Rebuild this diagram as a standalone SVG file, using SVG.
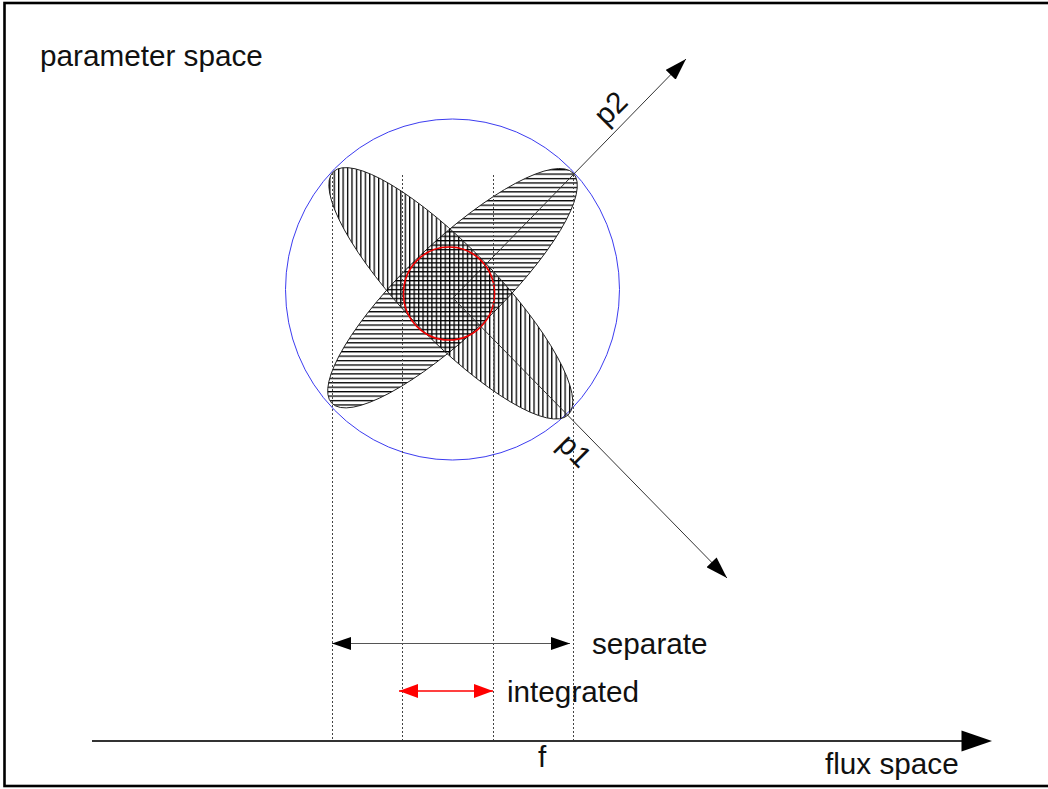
<svg xmlns="http://www.w3.org/2000/svg" width="1048" height="789" viewBox="0 0 1048 789">
<style>
  .lbl{font-family:"Liberation Sans",Arial,sans-serif;font-size:29.7px;fill:#111}
  .dot{stroke:#444;stroke-width:1;stroke-dasharray:2 2;fill:none}
  .ax{stroke:#333;stroke-width:1;fill:none}
  .outline{stroke:#222;stroke-width:1}
</style>
<defs>
  <pattern id="hh" patternUnits="userSpaceOnUse" x="0" y="0.3" width="8" height="4.44">
    <rect x="0" y="0" width="8" height="1.3" fill="#000"/>
  </pattern>
  <pattern id="vh" patternUnits="userSpaceOnUse" x="0.6" y="0" width="4.44" height="8">
    <rect x="0" y="0" width="1.3" height="8" fill="#000"/>
  </pattern>
  <marker id="axHead" markerUnits="userSpaceOnUse" markerWidth="24" markerHeight="14" refX="22" refY="7" orient="auto">
    <path d="M0,0 L22,7 L0,14 Z" fill="#000"/>
  </marker>
  <marker id="blkHead" markerUnits="userSpaceOnUse" markerWidth="20" markerHeight="13" refX="19" refY="6.5" orient="auto-start-reverse">
    <path d="M0,0 L19,6.5 L0,13 Z" fill="#000"/>
  </marker>
  <marker id="redHead" markerUnits="userSpaceOnUse" markerWidth="20" markerHeight="14" refX="19" refY="7" orient="auto-start-reverse">
    <path d="M0,0 L19,7 L0,14 Z" fill="#f00"/>
  </marker>
</defs>

<rect x="0" y="0" width="1048" height="789" fill="#fff"/>
<g id="frame">
  <rect x="4.5" y="3" width="1060" height="783" fill="none" stroke="#000" stroke-width="2.6"/>
</g>

<g id="title">
  <text class="lbl" x="40" y="66">parameter space</text>
</g>

<g id="outer-circle">
  <ellipse cx="452.5" cy="289.5" rx="167" ry="170.5" fill="none" stroke="#3c3cf0" stroke-width="1"/>
</g>

<g id="ellipse-p2">
  <path class="outline" fill="url(#hh)" d="M331.8,403.2 A166.7,46 -43.6 0 1 573.2,173.2 A166.7,46 -43.6 0 1 331.8,403.2 Z"/>
</g>
<g id="ellipse-p1">
  <path class="outline" fill="url(#vh)" d="M333.4,171.7 A169,46 46 0 1 568.2,414.9 A169,46 46 0 1 333.4,171.7 Z"/>
</g>

<g id="inner-circle">
  <ellipse cx="449" cy="293.5" rx="45.5" ry="46.5" fill="none" stroke="#e00" stroke-width="1.6"/>
</g>

<g id="projections">
  <line class="dot" x1="332.5" y1="173" x2="332.5" y2="740"/>
  <line class="dot" x1="402.5" y1="175" x2="402.5" y2="740"/>
  <line class="dot" x1="493.5" y1="175" x2="493.5" y2="740"/>
  <line class="dot" x1="573.5" y1="175" x2="573.5" y2="740"/>
</g>

<g id="connectors">
  <line class="ax" x1="453" y1="298" x2="686" y2="59" marker-end="url(#axHead)"/>
  <line class="ax" x1="453" y1="298" x2="727" y2="578" marker-end="url(#axHead)"/>
  <line x1="332" y1="643.5" x2="570" y2="643.5" stroke="#555" stroke-width="1.2" marker-start="url(#blkHead)" marker-end="url(#blkHead)"/>
  <line x1="399" y1="691" x2="493" y2="691" stroke="#f00" stroke-width="1.6" marker-start="url(#redHead)" marker-end="url(#redHead)"/>
  <line x1="92" y1="741" x2="963" y2="741" stroke="#333" stroke-width="2.2"/>
  <polygon points="961.5,730.5 992,741 961.5,751.5" fill="#000"/>
</g>

<g id="labels">
  <text class="lbl" x="0" y="0" font-size="28" transform="translate(606,127) rotate(-45)">p2</text>
  <text class="lbl" x="0" y="0" font-size="28" transform="translate(556,446) rotate(45)">p1</text>
  <text class="lbl" x="592" y="654">separate</text>
  <text class="lbl" x="507" y="702">integrated</text>
  <text class="lbl" x="538" y="767">f</text>
  <text class="lbl" x="825" y="774">flux space</text>
</g>
</svg>
